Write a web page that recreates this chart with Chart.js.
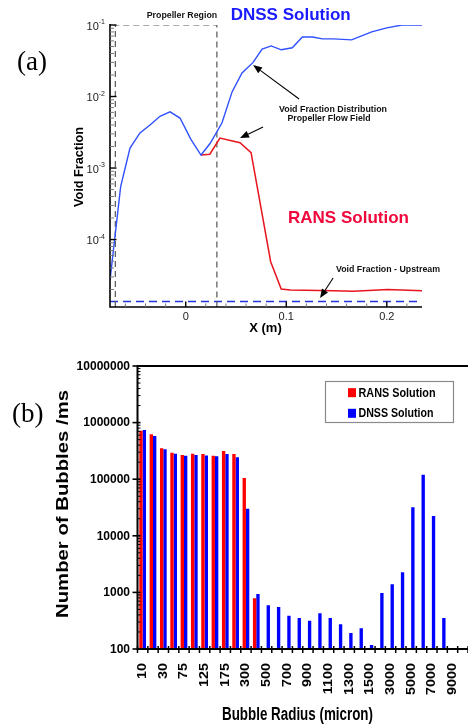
<!DOCTYPE html>
<html><head><meta charset="utf-8">
<script src="https://cdn.jsdelivr.net/npm/chart.js@4.4.0/dist/chart.umd.min.js"></script>
<style>
html,body{margin:0;padding:0;background:#fff;}
#wrap{position:relative;width:468px;height:725px;overflow:hidden;background:#fff;}
#chartA{position:absolute;left:0;top:0;}
#chartB{position:absolute;left:0;top:340px;}
</style></head><body>
<div id="wrap">
<canvas id="chartA" width="468" height="340"></canvas>
<canvas id="chartB" width="468" height="385"></canvas>
</div>
<script>
// ---------- Chart (a) data ----------
const dnssX  = [-0.0753, -0.0647, -0.0554, -0.0455, -0.0355, -0.0256, -0.0156, -0.0057, 0.0053, 0.0152, 0.0242, 0.0361, 0.0461, 0.056, 0.067, 0.076, 0.085, 0.095, 0.106, 0.116, 0.126, 0.136, 0.147, 0.165, 0.185, 0.200, 0.215, 0.235];
const dnssVF = [2.7e-5, 5.5e-4, 1.9e-3, 3.1e-3, 4.0e-3, 5.3e-3, 6.1e-3, 5.0e-3, 2.5e-3, 1.52e-3, 2.2e-3, 4.3e-3, 1.16e-2, 2.13e-2, 3.0e-2, 4.6e-2, 5.1e-2, 4.5e-2, 4.8e-2, 6.8e-2, 6.8e-2, 6.4e-2, 6.4e-2, 6.2e-2, 8.0e-2, 9.1e-2, 0.1, 0.1];
const ransX  = [0.0152, 0.024, 0.034, 0.054, 0.065, 0.0845, 0.095, 0.104, 0.147, 0.167, 0.201, 0.235];
const ransVF = [1.52e-3, 1.56e-3, 2.63e-3, 2.26e-3, 1.64e-3, 4.9e-5, 2.03e-5, 1.97e-5, 1.92e-5, 1.89e-5, 2.0e-5, 1.92e-5];
const regionX  = [-0.070, -0.070, 0.031, 0.031];
const regionVF = [1.14e-5, 0.1, 0.1, 1.14e-5];
const upstreamX  = [-0.0753, 0.235];
const upstreamVF = [1.36e-5, 1.36e-5];
const xMinA = -0.0753, xMaxA = 0.235, yMinA = 1.14e-5, yMaxA = 0.1;
const xMajorTicksA = [0, 0.1, 0.2];
const xMajorLabelsA = ['0', '0.1', '0.2'];
const xMinorTicksA = [-0.06, -0.04, -0.02, 0.02, 0.04, 0.06, 0.08, 0.12, 0.14, 0.16, 0.18, 0.22];
const yDecadesA = [-1, -2, -3, -4];
const yDecadeLabelsA = ['-1', '-2', '-3', '-4'];

// ---------- Chart (b) data ----------
const radiusCats = ['10','20','30','50','75','100','125','150','175','200','300','400','500','600','700','800','900','1000','1100','1200','1300','1400','1500','2000','3000','4000','5000','6000','7000','8000','9000','10000'];
const ransCounts = [720000, 620000, 352000, 294000, 268000, 282000, 279000, 260000, 316000, 279000, 105000, 790, null, null, null, null, null, null, null, null, null, null, null, null, null, null, null, null, null, null, null, null];
const dnssCounts = [740000, 580000, 338000, 282000, 260000, 268000, 263000, 254000, 279000, 244000, 30100, 935, 592, 552, 388, 353, 317, 427, 353, 273, 192, 232, 118, 980, 1390, 2260, 31800, 120000, 22400, 353, null, null];
const yTicksB = [10000000, 1000000, 100000, 10000, 1000, 100];
const yTickLabelsB = ['10000000', '1000000', '100000', '10000', '1000', '100'];

// ---------- helpers ----------
function txt(ctx, s, x, y, font, color, align, w) {
  ctx.save();
  ctx.font = font; ctx.fillStyle = color; ctx.textBaseline = 'middle'; ctx.textAlign = align || 'left';
  ctx.translate(x, y);
  if (w) { const m = ctx.measureText(s).width; ctx.scale(w / m, 1); }
  ctx.fillText(s, 0, 0);
  ctx.restore();
}
function rtxt(ctx, s, x, y, font, color, align, len) {
  ctx.save();
  ctx.font = font; ctx.fillStyle = color; ctx.textBaseline = 'middle'; ctx.textAlign = align || 'center';
  ctx.translate(x, y); ctx.rotate(-Math.PI / 2);
  if (len) { const m = ctx.measureText(s).width; ctx.scale(len / m, 1); }
  ctx.fillText(s, 0, 0);
  ctx.restore();
}
function seg(ctx, x1, y1, x2, y2) { ctx.beginPath(); ctx.moveTo(x1, y1); ctx.lineTo(x2, y2); ctx.stroke(); }
function arrow(ctx, x1, y1, x2, y2) {
  ctx.save();
  ctx.strokeStyle = '#000'; ctx.fillStyle = '#000'; ctx.lineWidth = 1.1;
  const a = Math.atan2(y2 - y1, x2 - x1), L = 9, W = 3.6;
  const bx = x2 - L * Math.cos(a), by = y2 - L * Math.sin(a);
  seg(ctx, x1, y1, bx, by);
  ctx.beginPath(); ctx.moveTo(x2, y2);
  ctx.lineTo(bx + W * Math.sin(a), by - W * Math.cos(a));
  ctx.lineTo(bx - W * Math.sin(a), by + W * Math.cos(a));
  ctx.closePath(); ctx.fill();
  ctx.restore();
}

// arrows in data coordinates [x, log10(vf)]
const arrowsA = [
  [[0.1128, -2.035], [0.067, -1.559]],
  [[0.0769, -2.427], [0.054, -2.580]],
  [[0.1466, -4.538], [0.1336, -4.818]]
];

const decorA = {
  id: 'decorA',
  afterDraw(chart) {
    const { ctx, chartArea: ca, scales: { x, y } } = chart;
    ctx.save();
    // axis lines
    ctx.strokeStyle = '#000'; ctx.lineWidth = 1.6;
    ctx.beginPath(); ctx.moveTo(ca.left, ca.top - 1); ctx.lineTo(ca.left, ca.bottom); ctx.lineTo(ca.right, ca.bottom); ctx.stroke();
    // y ticks (inward)
    for (let n = -5; n <= -1; n++) {
      for (let k = 1; k <= 9; k++) {
        const v = k * Math.pow(10, n);
        if (v < yMinA * 0.999 || v > yMaxA * 1.001) continue;
        const py = y.getPixelForValue(v);
        ctx.strokeStyle = k === 1 ? '#000' : '#777';
        ctx.lineWidth = k === 1 ? 1.4 : 1;
        seg(ctx, ca.left, py, ca.left + (k === 1 ? 6.5 : 4), py);
      }
    }
    // x ticks
    ctx.strokeStyle = '#000'; ctx.lineWidth = 1.4;
    xMajorTicksA.forEach(v => { const px = x.getPixelForValue(v); seg(ctx, px, ca.bottom, px, ca.bottom - 5.5); });
    ctx.strokeStyle = '#777'; ctx.lineWidth = 1;
    xMinorTicksA.forEach(v => { const px = x.getPixelForValue(v); seg(ctx, px, ca.bottom, px, ca.bottom - 3.5); });
    // y labels 10^n
    yDecadesA.forEach((n, i) => {
      const py = y.getPixelForValue(Math.pow(10, n));
      ctx.font = '11px Arial'; const w1 = ctx.measureText('10').width;
      ctx.font = '7px Arial'; const w2 = ctx.measureText(yDecadeLabelsA[i]).width;
      const x0 = ca.left - 5 - w1 - w2;
      txt(ctx, '10', x0, py + 1.5, '11px Arial', '#222', 'left');
      txt(ctx, yDecadeLabelsA[i], x0 + w1, py - 2.5, '7px Arial', '#222', 'left');
    });
    // x labels
    xMajorTicksA.forEach((v, i) => txt(ctx, xMajorLabelsA[i], x.getPixelForValue(v), ca.bottom + 9.5, '11px Arial', '#222', 'center'));
    // titles
    txt(ctx, 'X (m)', 265.5, 328.5, 'bold 13px Arial', '#000', 'center');
    rtxt(ctx, 'Void Fraction', 80, 167, 'bold 12.5px Arial', '#000', 'center', 80);
    // annotations
    txt(ctx, '(a)', 17, 63, '27px "Liberation Serif", "Times New Roman", serif', '#000', 'left');
    txt(ctx, 'Propeller Region', 146.7, 16, 'bold 9px Arial', '#111', 'left', 70.5);
    txt(ctx, 'DNSS Solution', 230.7, 15, 'bold 17px Arial', '#1a1aff', 'left', 120);
    txt(ctx, 'Void Fraction Distribution', 279, 109.5, 'bold 8.5px Arial', '#111', 'left', 108);
    txt(ctx, 'Propeller Flow Field', 287.5, 118.5, 'bold 8.5px Arial', '#111', 'left', 83);
    txt(ctx, 'RANS Solution', 288, 218, 'bold 17px Arial', '#f0083c', 'left', 121);
    txt(ctx, 'Void Fraction - Upstream', 336, 270, 'bold 8.5px Arial', '#111', 'left', 104);
    arrowsA.forEach(([t, h]) => arrow(ctx,
      x.getPixelForValue(t[0]), y.getPixelForValue(Math.pow(10, t[1])),
      x.getPixelForValue(h[0]), y.getPixelForValue(Math.pow(10, h[1]))));
    ctx.restore();
  }
};

const pts = (xs, ys) => xs.map((v, i) => ({ x: v, y: ys[i] }));

new Chart(document.getElementById('chartA'), {
  type: 'line',
  data: {
    datasets: [
      { label: 'DNSS Solution', data: pts(dnssX, dnssVF), borderColor: '#2f50ff', borderWidth: 1.4, pointRadius: 0, tension: 0 },
      { label: 'RANS Solution', data: pts(ransX, ransVF), borderColor: '#e8141e', borderWidth: 1.5, pointRadius: 0, tension: 0 },
      { label: 'Propeller Region', data: pts(regionX, regionVF), borderColor: '#555', borderWidth: 1.2, borderDash: [6, 4], pointRadius: 0, tension: 0 },
      { label: 'Void Fraction - Upstream', data: pts(upstreamX, upstreamVF), borderColor: '#2233dd', borderWidth: 1.3, borderDash: [8, 5], pointRadius: 0, tension: 0 }
    ]
  },
  options: {
    responsive: false, animation: false, devicePixelRatio: 1,
    layout: { padding: { left: 110, right: 46, top: 25, bottom: 33 } },
    plugins: { legend: { display: false }, tooltip: { enabled: false } },
    scales: {
      x: { type: 'linear', display: false, min: xMinA, max: xMaxA },
      y: { type: 'logarithmic', display: false, min: yMinA, max: yMaxA }
    }
  },
  plugins: [decorA]
});

// ---------- Chart (b) ----------
const decorB = {
  id: 'decorB',
  afterDraw(chart) {
    const { ctx, chartArea: ca, scales: { x, y } } = chart;
    ctx.save();
    ctx.strokeStyle = '#000'; ctx.lineWidth = 2;
    seg(ctx, ca.left, ca.top, ca.right, ca.top);
    seg(ctx, ca.left, ca.top - 1, ca.left, ca.bottom + 1);
    seg(ctx, ca.left, ca.bottom, ca.right, ca.bottom);
    // y ticks
    for (let n = 2; n <= 7; n++) {
      for (let k = 1; k <= 9; k++) {
        const v = k * Math.pow(10, n);
        if (v > 1e7 * 1.001) continue;
        const py = y.getPixelForValue(v);
        if (k === 1) { ctx.lineWidth = 1.6; seg(ctx, ca.left - 5, py, ca.left + 3, py); }
        else { ctx.lineWidth = 1; seg(ctx, ca.left, py, ca.left + 3, py); }
      }
    }
    // x ticks at category boundaries
    const half = (x.getPixelForValue(1) - x.getPixelForValue(0)) / 2;
    ctx.lineWidth = 1.5;
    for (let i = 0; i <= radiusCats.length; i++) {
      const px = (i < radiusCats.length ? x.getPixelForValue(i) : x.getPixelForValue(i - 1) + 2 * half) - half;
      seg(ctx, px, ca.bottom - 3, px, ca.bottom + 4);
    }
    // y labels
    yTicksB.forEach((v, i) => txt(ctx, yTickLabelsB[i], ca.left - 7.5, y.getPixelForValue(v) + 0.5, 'bold 12px Arial', '#000', 'right'));
    // x labels (every other category)
    radiusCats.forEach((c, i) => {
      if (i % 2) return;
      ctx.save();
      ctx.font = 'bold 12px Arial'; ctx.fillStyle = '#000'; ctx.textAlign = 'right'; ctx.textBaseline = 'middle';
      ctx.translate(x.getPixelForValue(i), ca.bottom + 14);
      ctx.rotate(-Math.PI / 2); ctx.scale(1.2, 1);
      ctx.fillText(c, 0, 0);
      ctx.restore();
    });
    // titles
    txt(ctx, 'Bubble Radius (micron)', 297.5, 375, 'bold 18px Arial', '#000', 'center', 151);
    rtxt(ctx, 'Number of Bubbles /ms', 63, 164, 'bold 17px Arial', '#000', 'center', 228);
    txt(ctx, '(b)', 12, 75, '27px "Liberation Serif", "Times New Roman", serif', '#000', 'left');
    // legend
    ctx.fillStyle = '#fff'; ctx.fillRect(325.5, 41.5, 128, 41);
    ctx.strokeStyle = '#8a8a8a'; ctx.lineWidth = 1.2; ctx.strokeRect(325.5, 41.5, 128, 41);
    const rows = [52.7, 73.3], widths = [77, 75];
    chart.data.datasets.forEach((ds, i) => {
      ctx.fillStyle = ds.backgroundColor; ctx.fillRect(348, rows[i] - 4.5, 8, 9);
      txt(ctx, ds.label, 358.5, rows[i] + 0.5, 'bold 12.5px Arial', '#000', 'left', widths[i]);
    });
    ctx.restore();
  }
};

new Chart(document.getElementById('chartB'), {
  type: 'bar',
  data: {
    labels: radiusCats,
    datasets: [
      { label: 'RANS Solution', data: ransCounts, backgroundColor: '#ff0000', categoryPercentage: 0.65, barPercentage: 1.0, borderWidth: 0 },
      { label: 'DNSS Solution', data: dnssCounts, backgroundColor: '#0000ff', categoryPercentage: 0.65, barPercentage: 1.0, borderWidth: 0 }
    ]
  },
  options: {
    responsive: false, animation: false, devicePixelRatio: 1,
    layout: { padding: { left: 137.5, right: 0, top: 26, bottom: 76 } },
    plugins: { legend: { display: false }, tooltip: { enabled: false } },
    scales: {
      x: { type: 'category', display: false, offset: true },
      y: { type: 'logarithmic', display: false, min: 100, max: 10000000 }
    }
  },
  plugins: [decorB]
});
</script>
</body></html>
